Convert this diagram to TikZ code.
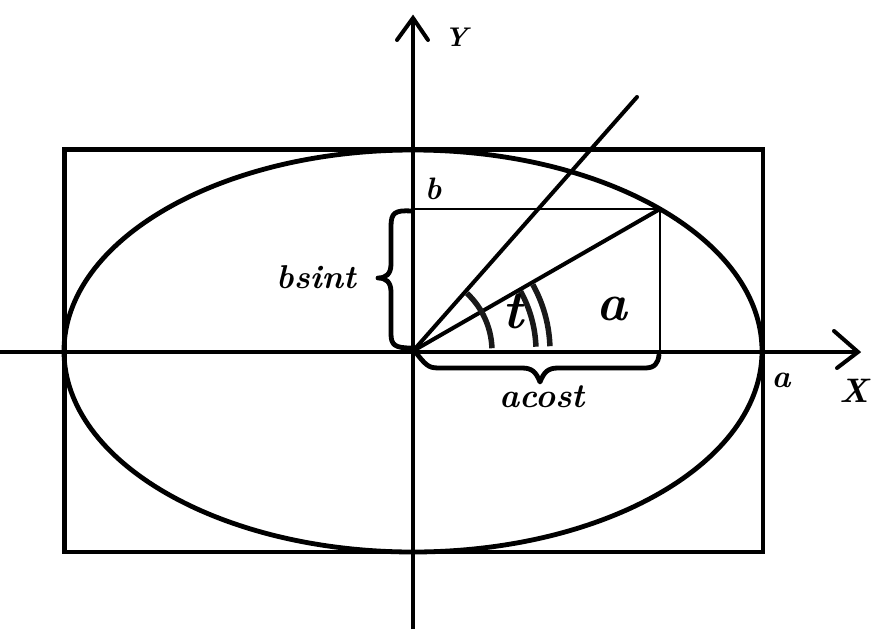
\documentclass[tikz,border=0pt]{standalone}
\usepackage{fontspec}
\setmainfont{Latin Modern Roman}
\usepackage{tikz}
\begin{document}
\begin{tikzpicture}[x=1pt,y=-1pt,
  thickline/.style={line width=4.8pt},
  radline/.style={line width=4pt, line cap=round},
  thinline/.style={line width=2pt},
  arcline/.style={line width=5.5pt, black!90},
  bracestyle/.style={line width=4.8pt, line join=round, line cap=round},
  lab/.style={inner sep=0pt, anchor=base},
]
\useasboundingbox (0,0) rectangle (872,629);
% key coordinates
\coordinate (O) at (413,351);
\coordinate (P) at (660,209);
\coordinate (Q) at (637,97);
\coordinate (B) at (413,209);
\coordinate (A) at (660,351);
\coordinate (xl) at (0,352);
\coordinate (xr) at (858,352);
\coordinate (yb) at (413,629);
\coordinate (yt) at (413,18);
% bounding rectangle and ellipse
\draw[thickline] (64.5,149.5) rectangle (763,552);
\draw[thickline] (O) ellipse [x radius=349, y radius=-201];
% axes
\draw[thickline] (xl) -- (xr);
\draw[thickline] (yb) -- (yt);
\draw[radline, line join=miter] (834,331) -- (xr) -- (837,368);
\draw[radline, line join=miter] (397,40) -- (yt) -- (428,40);
% inner rectangle
\draw[thinline] (B) -- (P) -- (A);
% radius lines
\draw[radline] (O) -- (Q);
\draw[radline] (O) -- (P);
% angle arcs
\draw[arcline] ([shift={(-2:79)}]O) arc[start angle=-2, end angle=-47, radius=79];
\draw[arcline] ([shift={(-2:123)}]O) arc[start angle=-2, end angle=-29, radius=123];
\draw[arcline] ([shift={(-2:137)}]O) arc[start angle=-2, end angle=-29, radius=137];
% braces
\draw[bracestyle] (411,211) .. controls (395,210) and (391,213) .. (391,226) -- (391,264)
  .. controls (391,274) and (386,278) .. (378,278)
  .. controls (386,278) and (391,282) .. (391,292) -- (391,334)
  .. controls (391,345) and (395,348) .. (411,348);
\draw[bracestyle] (417,354) .. controls (428,368) and (430,368) .. (442,368) -- (522,368)
  .. controls (532,368) and (536,372) .. (540,382)
  .. controls (544,372) and (548,368) .. (558,368) -- (645,368)
  .. controls (655,368) and (658,363) .. (659,355);
% labels
\node[lab, font=\fontsize{31}{33}\selectfont\bfseries\itshape] (lb) at (433,199) {b};
\node[lab, font=\fontsize{33}{35}\selectfont\bfseries\itshape] (lbs) at (316,288) {bsint};
\node[lab, font=\fontsize{54}{56}\selectfont\bfseries\itshape] (lt) at (513,328) {t};
\node[lab, font=\fontsize{52}{54}\selectfont\bfseries\itshape] (la) at (612,320) {a};
\node[lab, font=\fontsize{34}{36}\selectfont\bfseries\itshape] (lac) at (542,407) {acost};
\node[lab, font=\fontsize{32}{34}\selectfont\bfseries\itshape] (la2) at (781,387) {a};
\node[lab, font=\fontsize{34}{36}\selectfont\bfseries\itshape] (lx) at (854,402) {X};
\node[lab, font=\fontsize{27}{29}\selectfont\bfseries\itshape] (ly) at (456,46) {Y};
\end{tikzpicture}
\end{document}
